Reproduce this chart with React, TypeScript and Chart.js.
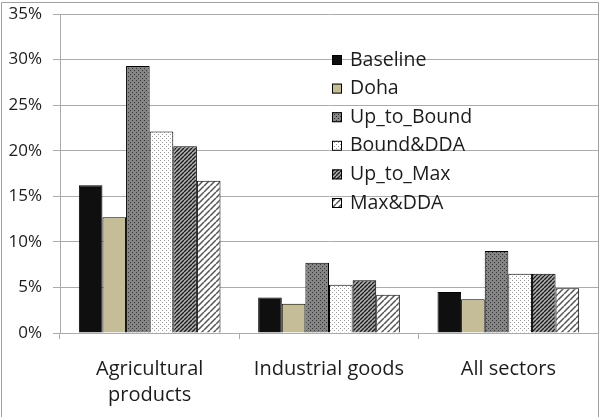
import React, { useEffect, useRef } from "react";
import { Chart, registerables } from "chart.js";

Chart.register(...registerables);

// Average tariff levels by sector and scenario (percent)
const categories: (string | string[])[] = [["Agricultural", "products"], "Industrial goods", "All sectors"];
const seriesNames = ["Baseline", "Doha", "Up_to_Bound", "Bound&DDA", "Up_to_Max", "Max&DDA"];
const baseline = [16.2, 3.9, 4.5];
const doha = [12.7, 3.2, 3.7];
const upToBound = [29.3, 7.7, 9.0];
const boundDDA = [22.1, 5.3, 6.5];
const upToMax = [20.5, 5.8, 6.5];
const maxDDA = [16.7, 4.2, 4.9];
const yTicks = [0, 5, 10, 15, 20, 25, 30, 35];

const FONT = "'Open Sans', Lato, sans-serif";
const TEXT = "#1c1c1c";
const GRID = "#ababab";

function tile(size: number, draw: (c: CanvasRenderingContext2D) => void): CanvasPattern | string {
  const cv = document.createElement("canvas");
  cv.width = size;
  cv.height = size;
  const c = cv.getContext("2d");
  if (!c) return "#888";
  draw(c);
  const p = c.createPattern(cv, "repeat");
  return p || "#888";
}

function dotted(bg: string, fg: string): CanvasPattern | string {
  return tile(4, (c) => {
    c.fillStyle = bg;
    c.fillRect(0, 0, 4, 4);
    c.fillStyle = fg;
    c.fillRect(0, 0, 1, 1);
    c.fillRect(2, 2, 1, 1);
  });
}

function diagonal(size: number, bg: string, fg: string, lw: number): CanvasPattern | string {
  return tile(size, (c) => {
    c.fillStyle = bg;
    c.fillRect(0, 0, size, size);
    c.strokeStyle = fg;
    c.lineWidth = lw;
    c.beginPath();
    for (const off of [-size, 0, size]) {
      c.moveTo(off, size);
      c.lineTo(off + size, 0);
    }
    c.stroke();
  });
}

const legendPlugin = {
  id: "insideLegend",
  afterDraw(chart: any) {
    const ctx = chart.ctx as CanvasRenderingContext2D;
    const x = 332;
    const y0 = 60;
    const step = 28.6;
    ctx.save();
    ctx.font = `19.5px ${FONT}`;
    ctx.textBaseline = "middle";
    chart.data.datasets.forEach((ds: any, i: number) => {
      const y = y0 + i * step;
      ctx.fillStyle = ds.backgroundColor;
      ctx.fillRect(x, y - 5, 10, 10);
      ctx.strokeStyle = "#000";
      ctx.lineWidth = 1;
      ctx.strokeRect(x + 0.5, y - 4.5, 9, 9);
      ctx.fillStyle = TEXT;
      ctx.fillText(ds.label, x + 18, y);
    });
    ctx.restore();
  },
};

const framePlugin = {
  id: "frame",
  beforeDraw(chart: any) {
    const ctx = chart.ctx as CanvasRenderingContext2D;
    ctx.save();
    ctx.fillStyle = "#fff";
    ctx.fillRect(0, 0, chart.width, chart.height);
    ctx.strokeStyle = "#a0a0a0";
    ctx.lineWidth = 1;
    ctx.beginPath();
    ctx.moveTo(1.5, chart.height);
    ctx.lineTo(1.5, 2.5);
    ctx.lineTo(598.5, 2.5);
    ctx.lineTo(598.5, chart.height);
    ctx.stroke();
    ctx.restore();
  },
};

export default function App() {
  const ref = useRef<HTMLCanvasElement | null>(null);

  useEffect(() => {
    document.body.style.margin = "0";
    const canvas = ref.current;
    if (!canvas) return;

    const fills = [
      "#0f0f0f",
      "#c4bd97",
      dotted("#858585", "#333333"),
      dotted("#ffffff", "#9a9a9a"),
      diagonal(4, "#b0b0b0", "#1e1e1e", 1.4),
      diagonal(6, "#ffffff", "#555555", 1.5),
    ];
    const values = [baseline, doha, upToBound, boundDDA, upToMax, maxDDA];

    const chart = new Chart(canvas, {
      type: "bar",
      data: {
        labels: categories,
        datasets: seriesNames.map((name, i) => ({
          label: name,
          data: values[i],
          backgroundColor: fills[i] as any,
          borderColor: "#000",
          borderWidth: 1,
          barPercentage: 1,
          categoryPercentage: 0.79,
        })),
      },
      options: {
        responsive: false,
        animation: false,
        layout: { padding: { top: 14, right: 6, left: 0, bottom: 0 } },
        plugins: { legend: { display: false }, tooltip: { enabled: false } },
        scales: {
          x: {
            grid: { display: true, drawOnChartArea: false, drawTicks: true, tickLength: 6, color: GRID },
            border: { display: true, color: GRID },
            ticks: { color: TEXT, font: { family: FONT, size: 20, lineHeight: 1.3 }, padding: 17, maxRotation: 0 },
            afterFit: (s: any) => {
              s.height = 84;
              s.paddingLeft = 0;
              s.paddingRight = 0;
            },
          },
          y: {
            min: 0,
            max: 35,
            afterBuildTicks: (s: any) => {
              s.ticks = yTicks.map((v) => ({ value: v }));
            },
            grid: { color: GRID, tickLength: 7, drawTicks: true },
            border: { display: true, color: GRID },
            ticks: {
              color: TEXT,
              font: { family: FONT, size: 17 },
              padding: 11,
              callback: (v: any) => `${v}%`,
            },
            afterFit: (s: any) => {
              s.width = 60;
              s.paddingTop = 0;
              s.paddingBottom = 0;
            },
          },
        },
      },
      plugins: [framePlugin, legendPlugin],
    });

    return () => chart.destroy();
  }, []);

  return <canvas ref={ref} width={604} height={417} />;
}
